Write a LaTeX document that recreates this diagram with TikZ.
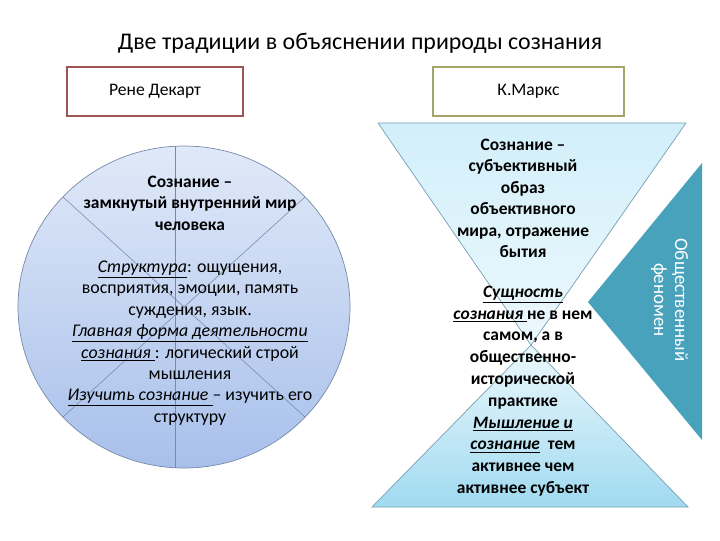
\documentclass[tikz,border=0pt]{standalone}
\usepackage{fontspec}
\setmainfont{Carlito}
\usetikzlibrary{calc}

\definecolor{descartesred}{RGB}{160,84,82}
\definecolor{marxolive}{RGB}{163,166,104}
\definecolor{circletop}{RGB}{224,233,248}
\definecolor{circlebot}{RGB}{168,192,235}
\definecolor{circleline}{RGB}{118,138,170}
\definecolor{glassline}{RGB}{118,160,180}
\definecolor{glasstop}{RGB}{210,239,250}
\definecolor{glassmid}{RGB}{236,248,253}
\definecolor{glassbot}{RGB}{160,218,240}
\definecolor{tealfill}{RGB}{72,162,188}

\begin{document}
\begin{tikzpicture}[x=0.025cm, y=-0.025cm]
    % Styles
    \tikzstyle{title} = [font=\fontsize{17}{20}\selectfont, inner sep=0pt]
    \tikzstyle{person} = [rectangle, draw, line width=1.4pt, minimum height=1.225cm, font=\fontsize{12.5}{15}\selectfont]
    \tikzstyle{body} = [align=center, inner sep=0pt, font=\fontsize{12.7}{15.2}\selectfont]
    \tikzstyle{boldbody} = [align=center, inner sep=0pt, font=\fontsize{12.4}{15.3}\selectfont\bfseries]
    \tikzstyle{divider} = [draw=circleline, line width=0.4pt]

    % Background
    \fill[white] (0,0) rectangle (720,540);
    \useasboundingbox (0,0) rectangle (720,540);

    % Title
    \node [title] (title) at (360,43) {Две традиции в объяснении природы сознания};

    % Heads
    \node [person, draw=descartesred, minimum width=4.4cm] (descartes) at (155,91.5) {Рене Декарт};
    \node [person, draw=marxolive, minimum width=4.775cm] (marx) at (528.5,91.5) {К.Маркс};

    % Circle
    \coordinate (c) at (184,307);
    \shade[top color=circletop, bottom color=circlebot, draw=circleline, line width=0.5pt] (c) ellipse [x radius=166, y radius=161];
    \draw [divider] ($(c)+(-9,-160.7)$) -- ($(c)+(-9,160.7)$);
    \draw [divider] ($(c)+(-121,-110)$) -- ($(c)+(121,110)$);
    \draw [divider] ($(c)+(121,-110)$) -- ($(c)+(-121,110)$);

    % Hourglass
    \coordinate (apex) at (531,345);
    \shade[top color=glasstop, bottom color=glassmid, draw=glassline, line width=0.5pt] (378,123) -- (686,123) -- (apex) -- cycle;
    \shade[top color=glassmid, bottom color=glassbot, draw=glassline, line width=0.5pt] (apex) -- (688,507) -- (372,507) -- cycle;
    \fill[tealfill] (588,302) -- (702,163) -- (702,440) -- cycle;

    % Texts
    \node [boldbody] (innerworld) at (190,203) {Сознание –\\замкнутый внутренний мир\\человека};
    \node [body] (structure) at (190,343) {\underline{\textit{Структура}}: ощущения,\\восприятия, эмоции, память\\суждения, язык.\\\underline{\textit{Главная форма деятельности}}\\\underline{\textit{сознания }}: логический строй\\мышления\\\underline{\textit{Изучить сознание }}– изучить его\\структуру};
    \node [boldbody] (image) at (523,198.5) {Сознание –\\субъективный\\образ\\объективного\\мира, отражение\\бытия};
    \node [boldbody, font=\fontsize{12.4}{15.5}\selectfont\bfseries] (essence) at (523,391) {\underline{\textit{Сущность}}\\\underline{\textit{сознания }}не в нем\\самом, а в\\общественно-\\исторической\\практике\\\underline{\textit{Мышление и}}\\\underline{\textit{сознание}}\ \ тем\\активнее чем\\активнее субъект};
    \node [body, font=\fontsize{13.5}{15}\selectfont, text=white, rotate=-90] (social) at (669.5,300) {Общественный\\феномен};
\end{tikzpicture}
\end{document}
